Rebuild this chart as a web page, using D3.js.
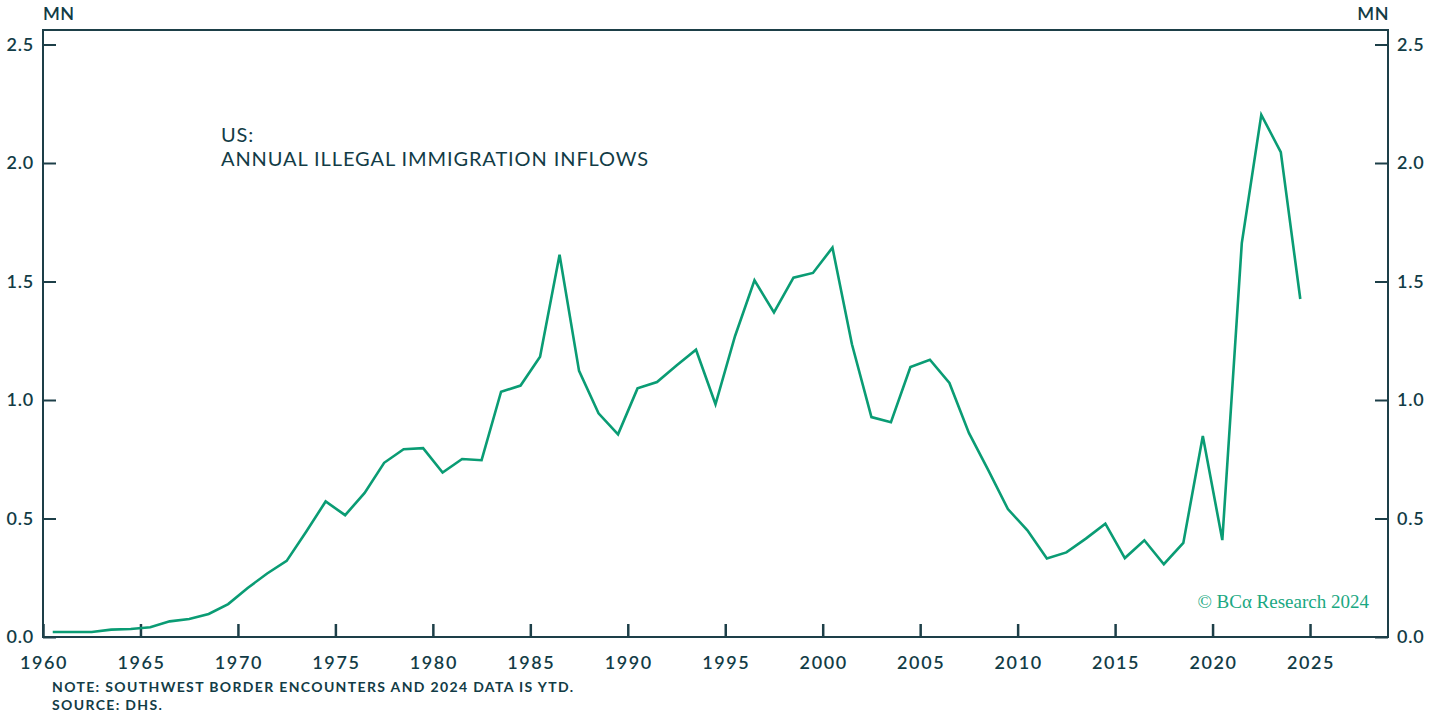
<!DOCTYPE html>
<html><head><meta charset="utf-8">
<script src="https://cdn.jsdelivr.net/npm/d3@7"></script>
<style>
body{margin:0;background:#fff;}
svg{display:block;}
text{font-family:"Lato","Open Sans",sans-serif;fill:#123c46;}
</style></head>
<body>
<svg id="chart" width="1431" height="713"></svg>
<script>
const years = d3.range(1960, 2025);
const inflows = [0.021,0.021,0.021,0.031,0.034,0.041,0.066,0.076,0.097,0.139,
 0.207,0.268,0.321,0.444,0.572,0.514,0.608,0.735,0.792,0.797,
 0.694,0.751,0.746,1.035,1.061,1.183,1.613,1.123,0.944,0.855,
 1.049,1.076,1.146,1.212,0.982,1.269,1.505,1.370,1.516,1.536,
 1.643,1.235,0.928,0.906,1.139,1.170,1.072,0.861,0.703,0.540,
 0.450,0.331,0.357,0.415,0.478,0.333,0.408,0.307,0.397,0.848,
 0.409,1.662,2.203,2.046,1.426];
const yTicks = [0,0.5,1.0,1.5,2.0,2.5];
const xTicks = [1960,1965,1970,1975,1980,1985,1990,1995,2000,2005,2010,2015,2020,2025];
const titleLines = ["US:","ANNUAL ILLEGAL IMMIGRATION INFLOWS"];
const notes = ["NOTE: SOUTHWEST BORDER ENCOUNTERS AND 2024 DATA IS YTD.","SOURCE: DHS."];

const svg = d3.select("#chart");
const L=43, R=1388, T=30, B=637;
const dark="#1d3f48", green="#0a9c74";
const x = d3.scaleLinear().domain([1960, 2029]).range([L, R]);
const y = d3.scaleLinear().domain([0, 2.5]).range([B, 44.5]);

// frame
svg.append("rect").attr("x",L).attr("y",T).attr("width",R-L).attr("height",B-T)
  .attr("fill","none").attr("stroke",dark).attr("stroke-width",2);

// y axes
const yl = svg.append("g").attr("transform",`translate(${L},0)`)
  .call(d3.axisRight(y).tickValues(yTicks).tickSize(13).tickFormat(""));
const yr = svg.append("g").attr("transform",`translate(${R},0)`)
  .call(d3.axisLeft(y).tickValues(yTicks).tickSize(13).tickFormat(""));
[yl,yr].forEach(g=>{g.select(".domain").remove();g.selectAll("line").attr("stroke",dark).attr("stroke-width",2);});
svg.selectAll(".ylab").data(yTicks).join("text")
  .attr("x",L-9).attr("y",d=>y(d)).attr("dy","0.35em").attr("text-anchor","end")
  .attr("font-size",18).attr("font-weight",600).attr("letter-spacing",0.8).text(d=>d.toFixed(1));
svg.selectAll(".yrlab").data(yTicks).join("text")
  .attr("x",R+9).attr("y",d=>y(d)).attr("dy","0.35em").attr("text-anchor","start")
  .attr("font-size",18).attr("font-weight",600).attr("letter-spacing",0.8).text(d=>d.toFixed(1));

// x axis
const xa = svg.append("g").attr("transform",`translate(0,${B})`)
  .call(d3.axisTop(x).tickValues(xTicks).tickSize(13).tickFormat(""));
xa.select(".domain").remove();
xa.selectAll("line").attr("stroke",dark).attr("stroke-width",2.5);
svg.selectAll(".xlab").data(xTicks).join("text")
  .attr("x",d=>x(d)+1).attr("y",669).attr("text-anchor","middle")
  .attr("font-size",18).attr("font-weight",600).attr("letter-spacing",1.6).text(d=>d);

// MN labels
svg.append("text").attr("x",L).attr("y",20).attr("font-size",18).attr("font-weight",600).attr("letter-spacing",0.5).text("MN");
svg.append("text").attr("x",R+1).attr("y",20).attr("text-anchor","end").attr("font-size",18).attr("font-weight",600).attr("letter-spacing",0.5).text("MN");

// line
const line = d3.line().x((d,i)=>x(years[i]+0.5)).y(d=>y(d));
svg.append("path").datum(inflows).attr("d",line).attr("fill","none")
  .attr("stroke",green).attr("stroke-width",2.6).attr("stroke-linejoin","miter");

// title
svg.selectAll(".title").data(titleLines).join("text")
  .attr("x",221).attr("y",(d,i)=>142+i*24).attr("font-size",20).attr("font-weight",400)
  .attr("letter-spacing",0.9).text(d=>d);

// notes
svg.selectAll(".note").data(notes).join("text")
  .attr("x",52).attr("y",(d,i)=>692+i*18).attr("font-size",14).attr("font-weight",700)
  .attr("letter-spacing",1.35).text(d=>d);

// watermark
svg.append("text").attr("x",1369).attr("y",608).attr("text-anchor","end")
  .style("font-family","'Liberation Serif','DejaVu Serif',serif").style("font-size","19px")
  .style("fill","#1aa882").text("© BCα Research 2024");
</script>
</body></html>
